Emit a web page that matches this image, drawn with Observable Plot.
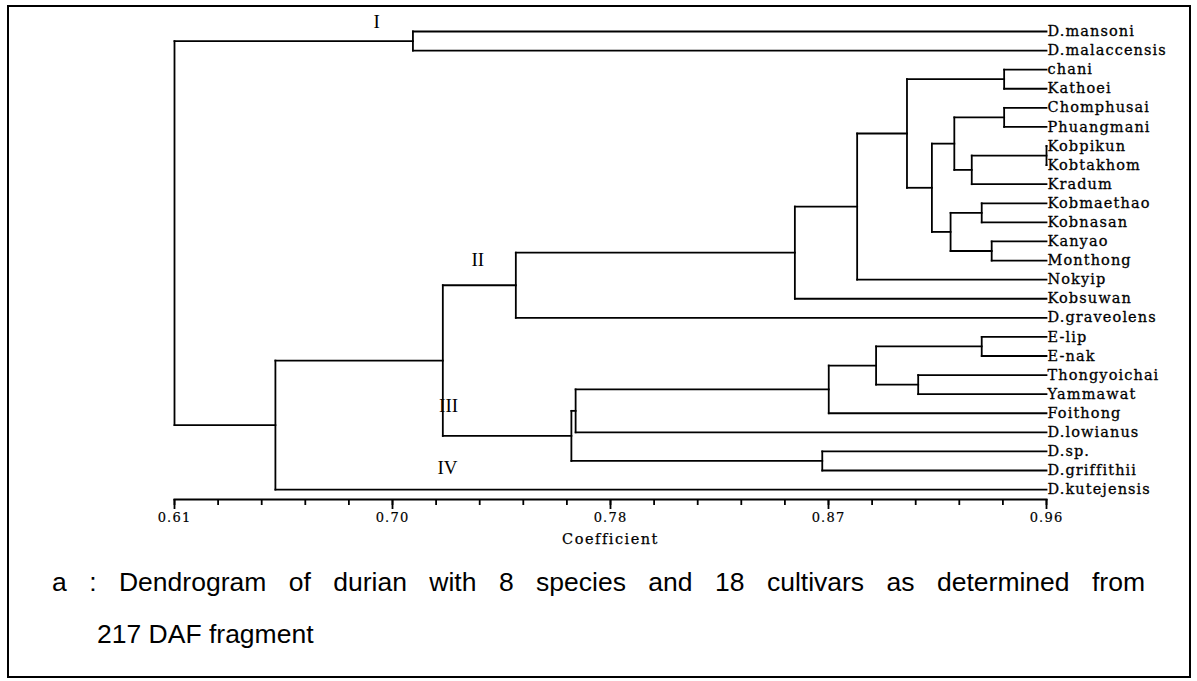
<!DOCTYPE html>
<html><head><meta charset="utf-8">
<script src="https://cdn.jsdelivr.net/npm/d3@7"></script>
<script src="https://cdn.jsdelivr.net/npm/@observablehq/plot@0.6"></script>
<style>
body{margin:0;background:#fff;width:1197px;height:681px;position:relative;overflow:hidden}
#frame{position:absolute;left:7px;top:5px;width:1184px;height:673px;border:2px solid #000;box-sizing:border-box}
#chart{position:absolute;left:0;top:0}
.cap{position:absolute;font-family:"Liberation Sans",Arial,sans-serif;font-size:26.5px;color:#000;white-space:nowrap}
</style></head><body>
<div id="frame"></div>
<div id="chart"></div>
<div class="cap" style="left:52px;top:567px;width:1093px;text-align:justify;text-align-last:justify;white-space:normal">a : Dendrogram of durian with 8 species and 18 cultivars as determined from</div>
<div class="cap" style="left:97px;top:619px">217 DAF fragment</div>
<script>
// Leaves, top to bottom
const leaves = ["D.mansoni","D.malaccensis","chani","Kathoei","Chomphusai","Phuangmani",
  "Kobpikun","Kobtakhom","Kradum","Kobmaethao","Kobnasan","Kanyao","Monthong","Nokyip",
  "Kobsuwan","D.graveolens","E-lip","E-nak","Thongyoichai","Yammawat","Foithong",
  "D.lowianus","D.sp.","D.griffithii","D.kutejensis"];
// Merges (node i+1 = "n"+(i+1)), with coefficient of the join
const mergeA = ["Kobpikun","n1","Chomphusai","n3","Kobmaethao","Kanyao","n5","n4","chani","n9",
  "n10","n11","n12","E-lip","Thongyoichai","n14","n16","n17","D.sp.","n18","n13","n21","D.mansoni","n23"];
const mergeB = ["Kobtakhom","Kradum","Phuangmani","n2","Kobnasan","Monthong","n6","n7","Kathoei","n8",
  "Nokyip","Kobsuwan","D.graveolens","E-nak","Yammawat","n15","Foithong","D.lowianus","D.griffithii","n19","n20","D.kutejensis","D.malaccensis","n22"];
const mergeHeight = [0.960,0.930,0.943,0.923,0.934,0.938,0.9215,0.914,0.943,0.904,
  0.884,0.859,0.747,0.934,0.9085,0.8916,0.8726,0.771,0.870,0.7693,0.7177,0.6505,0.7057,0.610];
const leafHeight = 0.96;
const tickLabels = ["0.61","0.70","0.78","0.87","0.96"];
const axisMin = 0.61, axisMax = 0.96;
const clusterNames = ["I","II","III","IV"];
const clusterX = [0.6911,0.7317,0.7200,0.7196];
const clusterY = [-0.5,11.95,19.63,22.85];

const pos = new Map();
leaves.forEach((n,i)=>pos.set(n,{h:leafHeight,y:i}));
const segs = [];
mergeA.forEach((a,i)=>{
  const b = mergeB[i], h = mergeHeight[i];
  const A = pos.get(a), B = pos.get(b);
  segs.push({x1:h,y1:A.y,x2:h,y2:B.y});
  segs.push({x1:h,y1:A.y,x2:A.h,y2:A.y});
  segs.push({x1:h,y1:B.y,x2:B.h,y2:B.y});
  pos.set("n"+(i+1),{h,y:(A.y+B.y)/2});
});
const step = (axisMax-axisMin)/4;
const majorTicks = d3.range(5).map(i=>axisMin+i*step);
const minorTicks = d3.range(21).map(i=>axisMin+i*step/5);
const serif = "DejaVu Serif";

const chart = Plot.plot({
  width:1197, height:560, marginLeft:174, marginRight:151, marginTop:31, marginBottom:61,
  x:{domain:[axisMin,axisMax]},
  y:{domain:[0,leaves.length-1], range:[31,489.1], axis:null},
  style:{background:"transparent", fontFamily:serif, color:"#000"},
  marks:[
    Plot.frame({anchor:"bottom", stroke:"#000", strokeWidth:2}),
    Plot.axisX(minorTicks,{tickSize:6, tickFormat:()=>"", strokeWidth:1.8}),
    Plot.axisX(majorTicks,{tickSize:10, tickFormat:()=>"", strokeWidth:1.8}),
    Plot.text(majorTicks,{x:d=>d, frameAnchor:"bottom", dy:22, text:(d,i)=>tickLabels[i],
      fontSize:13, fontFamily:serif, fill:"#000", stroke:"#000", strokeWidth:0.2}),
    Plot.link(segs,{x1:"x1",y1:"y1",x2:"x2",y2:"y2",stroke:"#000",strokeWidth:1.8,strokeLinecap:"square"}),
    Plot.text(leaves,{x:()=>leafHeight,y:(d,i)=>i,text:d=>d,textAnchor:"start",dx:1,fontSize:14.5,fontFamily:serif,fill:"#000",stroke:"#000",strokeWidth:0.3}),
    Plot.text(clusterNames,{x:(d,i)=>clusterX[i],y:(d,i)=>clusterY[i],text:d=>d,fontSize:19,
      fontFamily:"Liberation Serif",fill:"#000"}),
    Plot.text(["Coefficient"],{frameAnchor:"bottom",dy:44,text:d=>d,fontSize:14.5,fontFamily:serif,fill:"#000",stroke:"#000",strokeWidth:0.25})
  ]
});
document.getElementById("chart").appendChild(chart);
const leafSet = new Set(leaves);
chart.querySelectorAll("text").forEach(t=>{
  const s = t.textContent.trim();
  if (leafSet.has(s)) t.style.letterSpacing = "1.1px";
  else if (s==="Coefficient") t.style.letterSpacing = "1.5px";
  else if (tickLabels.includes(s)) t.style.letterSpacing = "1.2px";
});
</script>
</body></html>
